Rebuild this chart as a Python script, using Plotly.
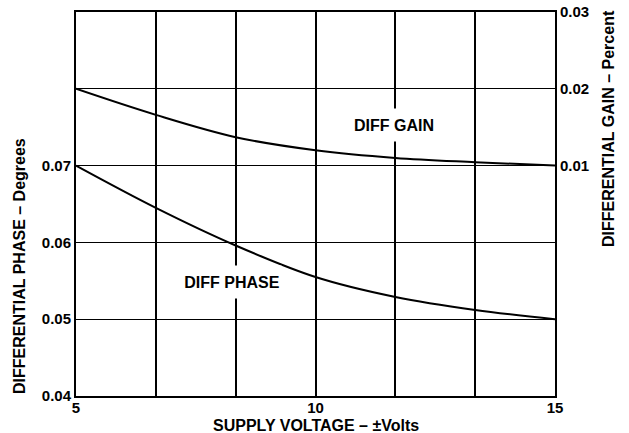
import plotly.graph_objects as go

# Data
supply_v = [5, 6.667, 8.333, 10, 11.667, 13.333, 15]
diff_gain = [0.0200, 0.0166, 0.0137, 0.0120, 0.0110, 0.01045, 0.0100]
diff_phase = [0.0700, 0.0645, 0.0596, 0.0555, 0.0529, 0.0512, 0.0500]

x_tickvals = [5, 6.667, 8.333, 10, 11.667, 13.333, 15]
x_ticktext = ["5", "", "", "10", "", "", "15"]
y_tickvals = [0.04, 0.05, 0.06, 0.07, 0.08]
y_ticktext = ["0.04", "0.05", "0.06", "0.07", ""]
y2_tickvals = [0.01, 0.02, 0.03]
y2_ticktext = ["0.01", "0.02", "0.03"]

FONT = "Liberation Sans, Arial, sans-serif"

fig = go.Figure()
fig.add_trace(go.Scatter(x=supply_v, y=diff_phase, mode="lines",
                         line=dict(color="black", width=2, shape="spline", smoothing=1.0),
                         showlegend=False, yaxis="y"))
fig.add_trace(go.Scatter(x=supply_v, y=diff_gain, mode="lines",
                         line=dict(color="black", width=2, shape="spline", smoothing=1.0),
                         showlegend=False, yaxis="y2"))

fig.update_layout(
    width=629, height=433,
    margin=dict(l=76, r=74, t=12, b=37),
    paper_bgcolor="white", plot_bgcolor="white",
    font=dict(family=FONT, size=15, color="black"),
    xaxis=dict(range=[5, 15], tickvals=x_tickvals, ticktext=x_ticktext,
               showgrid=True, gridcolor="black", gridwidth=1.8,
               showline=True, linecolor="black", linewidth=2, mirror=True,
               ticks="", zeroline=False, automargin=False, ticklabelstandoff=-3,
               tickfont=dict(family=FONT, size=15, color="black", weight="bold")),
    yaxis=dict(range=[0.04, 0.09], tickvals=y_tickvals, ticktext=y_ticktext,
               showgrid=True, gridcolor="black", gridwidth=1.2,
               showline=True, linecolor="black", linewidth=2, mirror=True,
               ticks="", zeroline=False, automargin=False,
               tickfont=dict(family=FONT, size=15, color="black", weight="bold")),
    yaxis2=dict(range=[-0.02, 0.03], tickvals=y2_tickvals, ticktext=y2_ticktext,
                overlaying="y", side="right", showgrid=False,
                showline=True, linecolor="black", linewidth=2,
                ticks="", zeroline=False, automargin=False,
                tickfont=dict(family=FONT, size=15, color="black", weight="bold")),
)

fig.add_annotation(x=8.25, y=0.0548, xref="x", yref="y", text="<b>DIFF PHASE</b>",
                   showarrow=False, bgcolor="white", borderpad=0, width=98, height=32,
                   xanchor="center", yanchor="middle",
                   font=dict(family=FONT, size=16, color="black"))
fig.add_annotation(x=11.63, y=0.0753, xref="x", yref="y", text="<b>DIFF GAIN</b>",
                   showarrow=False, bgcolor="white", borderpad=0, width=84, height=32,
                   xanchor="center", yanchor="middle",
                   font=dict(family=FONT, size=16, color="black"))

fig.add_annotation(x=0.5, y=-0.0762, xref="paper", yref="paper",
                   text="<b>SUPPLY VOLTAGE – ±Volts</b>", xanchor="center", yanchor="middle",
                   borderpad=0,
                   showarrow=False, font=dict(family=FONT, size=16, color="black"))
fig.add_annotation(x=-0.119, y=0.3385, xref="paper", yref="paper",
                   text="<b>DIFFERENTIAL PHASE – Degrees</b>", textangle=-90,
                   xanchor="center", yanchor="middle",
                   showarrow=False, font=dict(family=FONT, size=16, color="black"))
fig.add_annotation(x=1.1127, y=0.698, xref="paper", yref="paper",
                   text="<b>DIFFERENTIAL GAIN – Percent</b>", textangle=-90,
                   xanchor="center", yanchor="middle",
                   showarrow=False, font=dict(family=FONT, size=16, color="black"))

fig.write_html("out.html", config={"displayModeBar": False},
               post_script="document.body.style.margin='0';")
